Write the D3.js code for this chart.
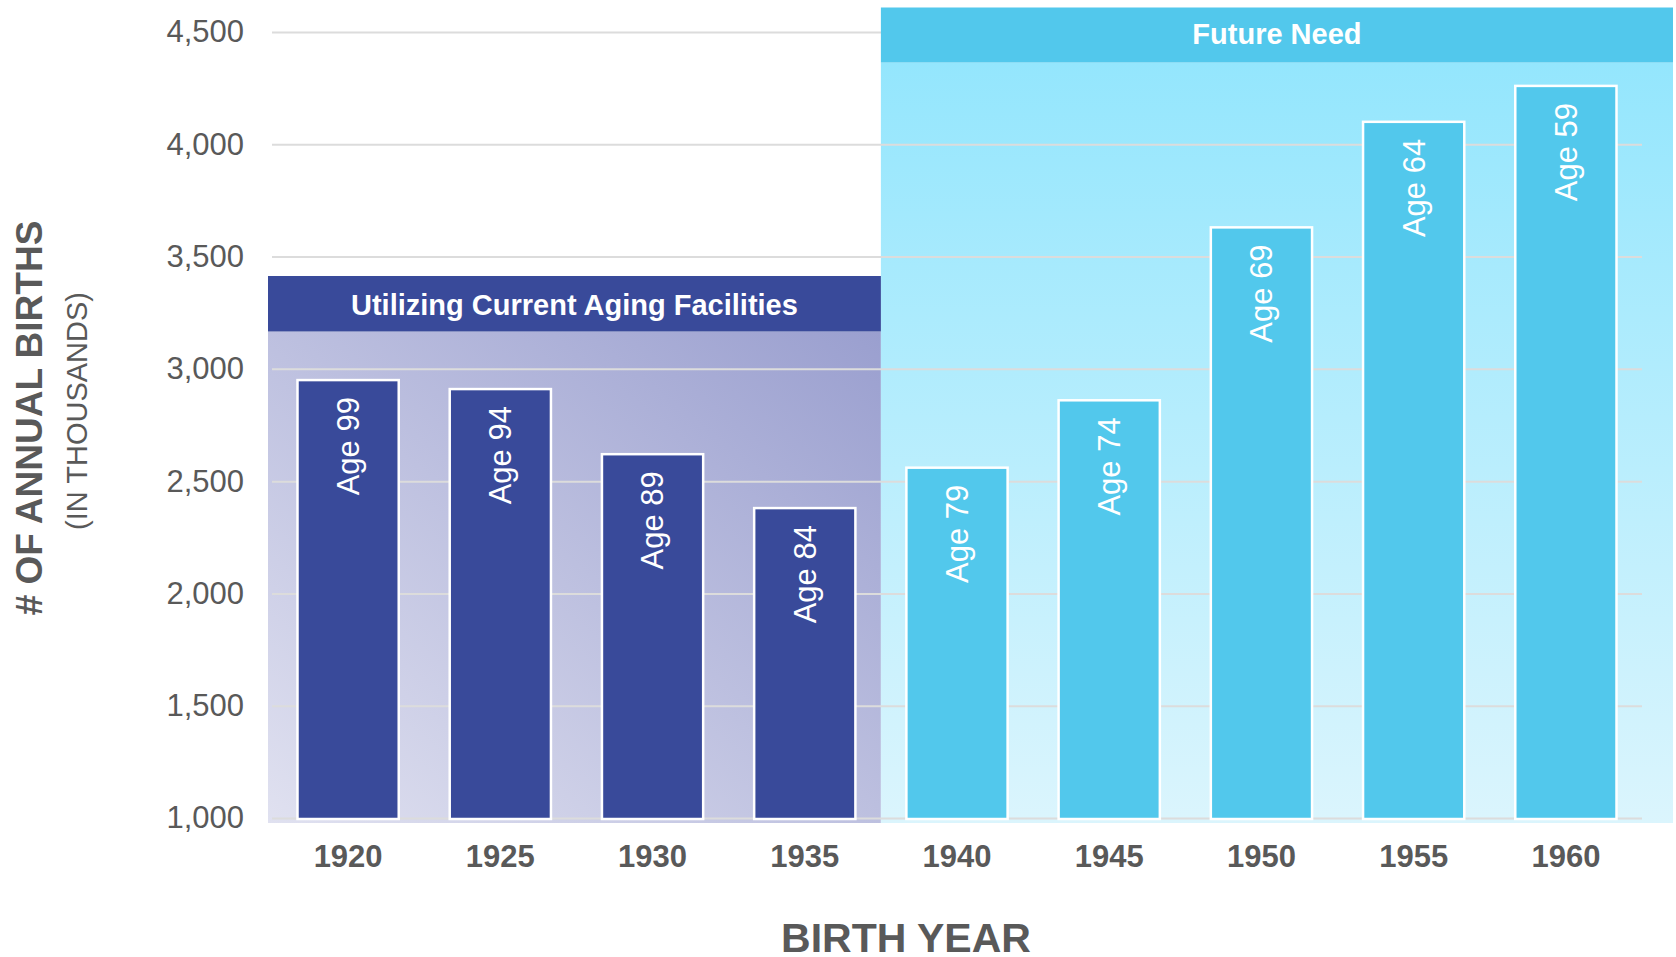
<!DOCTYPE html>
<html>
<head>
<meta charset="utf-8">
<script src="https://cdn.jsdelivr.net/npm/d3@7"></script>
<style>
  html, body { margin: 0; padding: 0; background: #ffffff; }
  svg { display: block; font-family: "Liberation Sans", Arial, sans-serif; }
</style>
</head>
<body>
<svg id="chart" width="1676" height="957"></svg>
<script>
// ---- data ----
const years = ["1920", "1925", "1930", "1935", "1940", "1945", "1950", "1955", "1960"];
const births = [2950, 2910, 2620, 2380, 2560, 2860, 3630, 4100, 4260];
const ageLabels = ["Age 99", "Age 94", "Age 89", "Age 84", "Age 79", "Age 74", "Age 69", "Age 64", "Age 59"];
const groups = ["current", "current", "current", "current", "future", "future", "future", "future", "future"];
const yTicks = [1000, 1500, 2000, 2500, 3000, 3500, 4000, 4500];
const groupTitles = ["Utilizing Current Aging Facilities", "Future Need"];

// ---- layout ----
const svg = d3.select("#chart");
const x = d3.scaleBand().domain(years).range([272, 1642]).paddingInner(0.335).paddingOuter(0.1675);
const y = d3.scaleLinear().domain([1000, 4500]).range([818, 32]);

const textGrey = "#595959";
const navy = "#394a9a";
const cyan = "#52c8ec";

const defs = svg.append("defs");
const gL = defs.append("linearGradient").attr("id", "gradLeft")
  .attr("x1", "0").attr("y1", "1").attr("x2", "1").attr("y2", "0");
gL.append("stop").attr("offset", "0%").attr("stop-color", "#e0e1f0");
gL.append("stop").attr("offset", "100%").attr("stop-color", "#9a9fcf");

const gR = defs.append("linearGradient").attr("id", "gradRight")
  .attr("x1", "0").attr("y1", "0").attr("x2", "0").attr("y2", "1");
gR.append("stop").attr("offset", "0%").attr("stop-color", "#94e6fd");
gR.append("stop").attr("offset", "100%").attr("stop-color", "#dbf5fd");

// region boundaries derived from the band scale
const step = x.step();
const divider = x("1935") + x.bandwidth() / 2 + step / 2;
const leftX0 = x.range()[0] - 4;
const rightX1 = x.range()[1] + 31;
const regionBottom = y(1000) + 5;

// left region body
const leftBannerTop = 276, leftBannerBottom = 331.5;
svg.append("rect").attr("x", leftX0).attr("y", leftBannerBottom)
  .attr("width", divider - leftX0).attr("height", regionBottom - leftBannerBottom)
  .attr("fill", "url(#gradLeft)");
// right region body
const rightBannerTop = 7.5, rightBannerBottom = 62.5;
svg.append("rect").attr("x", divider).attr("y", rightBannerBottom)
  .attr("width", rightX1 - divider).attr("height", regionBottom - rightBannerBottom)
  .attr("fill", "url(#gradRight)");

// ---- y axis with gridlines ----
const yAxis = d3.axisLeft(y).tickValues(yTicks).tickFormat(d3.format(","))
  .tickSize(-(x.range()[1] - x.range()[0])).tickPadding(28);
const gy = svg.append("g").attr("transform", `translate(${x.range()[0]},0)`).call(yAxis);
gy.select(".domain").remove();
gy.selectAll(".tick line").attr("stroke", "#dcdcdc").attr("stroke-width", 2);
gy.selectAll(".tick text").attr("fill", textGrey).attr("font-size", 31)
  .attr("font-family", "Liberation Sans, Arial, sans-serif");

// banners (cover gridlines)
svg.append("rect").attr("x", leftX0).attr("y", leftBannerTop)
  .attr("width", divider - leftX0).attr("height", leftBannerBottom - leftBannerTop).attr("fill", navy);
svg.append("rect").attr("x", divider).attr("y", rightBannerTop)
  .attr("width", rightX1 - divider).attr("height", rightBannerBottom - rightBannerTop).attr("fill", cyan);
svg.append("text").attr("x", (leftX0 + divider) / 2).attr("y", 315)
  .attr("text-anchor", "middle").attr("fill", "#ffffff").attr("font-weight", "bold").attr("font-size", 29)
  .text(groupTitles[0]);
svg.append("text").attr("x", (divider + rightX1) / 2).attr("y", 43.5)
  .attr("text-anchor", "middle").attr("fill", "#ffffff").attr("font-weight", "bold").attr("font-size", 29)
  .text(groupTitles[1]);

// ---- bars ----
const data = years.map((yr, i) => ({ year: yr, value: births[i], age: ageLabels[i], group: groups[i] }));
svg.append("g").selectAll("rect").data(data).join("rect")
  .attr("x", d => x(d.year))
  .attr("y", d => y(d.value))
  .attr("width", x.bandwidth())
  .attr("height", d => y(1000) + 1 - y(d.value))
  .attr("fill", d => d.group === "current" ? navy : cyan)
  .attr("stroke", "#ffffff").attr("stroke-width", 2.5);

// age labels, rotated
svg.append("g").selectAll("text").data(data).join("text")
  .attr("transform", d => `translate(${x(d.year) + x.bandwidth() / 2},${y(d.value) + 17}) rotate(-90)`)
  .attr("text-anchor", "end").attr("dy", "0.35em")
  .attr("fill", "#ffffff").attr("font-size", 31)
  .text(d => d.age);

// ---- x axis ----
const xAxis = d3.axisBottom(x).tickSize(0).tickPadding(27);
const gx = svg.append("g").attr("transform", `translate(0,${y(1000)})`).call(xAxis);
gx.select(".domain").remove();
gx.selectAll(".tick text").attr("fill", textGrey).attr("font-size", 31).attr("font-weight", "bold")
  .attr("font-family", "Liberation Sans, Arial, sans-serif");

// ---- axis titles ----
svg.append("text").attr("x", 906).attr("y", 952).attr("text-anchor", "middle")
  .attr("fill", textGrey).attr("font-weight", "bold").attr("font-size", 41).text("BIRTH YEAR");
svg.append("text").attr("transform", "translate(42,418) rotate(-90)").attr("text-anchor", "middle")
  .attr("fill", textGrey).attr("font-weight", "bold").attr("font-size", 37).text("# OF ANNUAL BIRTHS");
svg.append("text").attr("transform", "translate(87,411) rotate(-90)").attr("text-anchor", "middle")
  .attr("fill", textGrey).attr("font-size", 29).text("(IN THOUSANDS)");
</script>
</body>
</html>
